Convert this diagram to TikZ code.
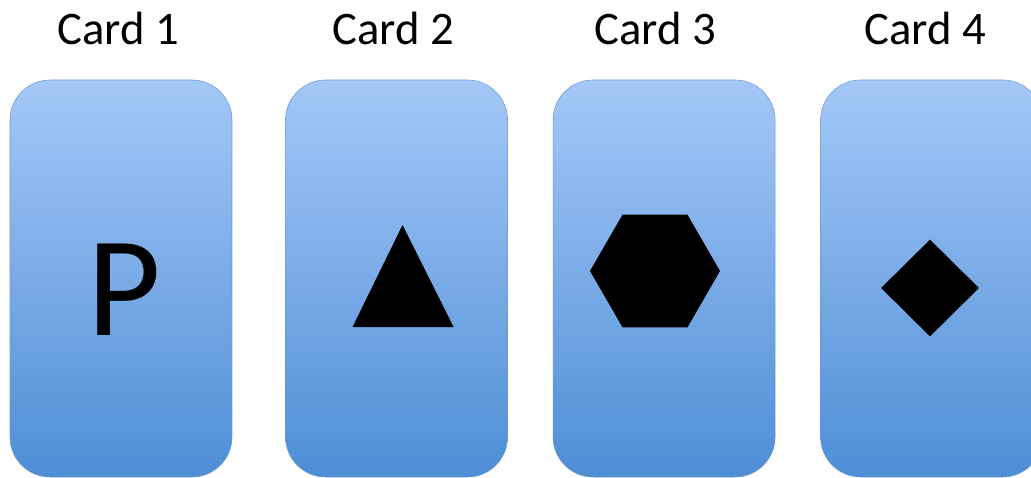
\documentclass[tikz,border=0pt]{standalone}
\usepackage{fontspec}
\setmainfont{Carlito}
\usepackage{xcolor}
\definecolor{CardTop}{HTML}{A4C8F7}
\definecolor{CardBottom}{HTML}{4E8ED6}
\definecolor{CardEdge}{HTML}{6F9AD0}
\usetikzlibrary{positioning,shapes.geometric,calc}

\begin{document}
\begin{tikzpicture}[
  x=0.75pt, y=-0.75pt,
  card/.style={draw=CardEdge, rounded corners=30pt, top color=CardTop,
               bottom color=CardBottom, inner sep=0pt,
               minimum width=166.5pt, minimum height=297.75pt},
  title/.style={font=\fontsize{35}{40}\selectfont, anchor=base},
  glyph/.style={fill=black, draw=none, inner sep=0pt}
]
  \useasboundingbox (0,0) rectangle (1031,478);
  % the four cards
  \node[card] (card1) at (121,278.5) {};
  \node[card, right=39.75pt of card1] (card2) {};
  \node[card, right=33.75pt of card2] (card3) {};
  \node[card, right=33.75pt of card3] (card4) {};
  % titles
  \node[title] (title1) at (118,45) {Card 1};
  \node[title] (title2) at (393,45) {Card 2};
  \node[title] (title3) at (655,45) {Card 3};
  \node[title] (title4) at (925,45) {Card 4};
  % symbols
  \node[inner sep=0pt, font=\fontsize{107}{107}\selectfont] (letterP) at (124,290) {P};
  \fill ($(card2.center)+(6,-53.5)$) -- ($(card2.center)+(57,48.5)$)
        -- ($(card2.center)+(-44,48.5)$) -- cycle;
  \node[glyph, regular polygon, regular polygon sides=6,
        minimum size=97.5pt] (hexa) at (655,271) {};
  \node[glyph, diamond, minimum width=73.5pt, minimum height=72.75pt]
        (rhomb) at (930,288) {};
\end{tikzpicture}
\end{document}
